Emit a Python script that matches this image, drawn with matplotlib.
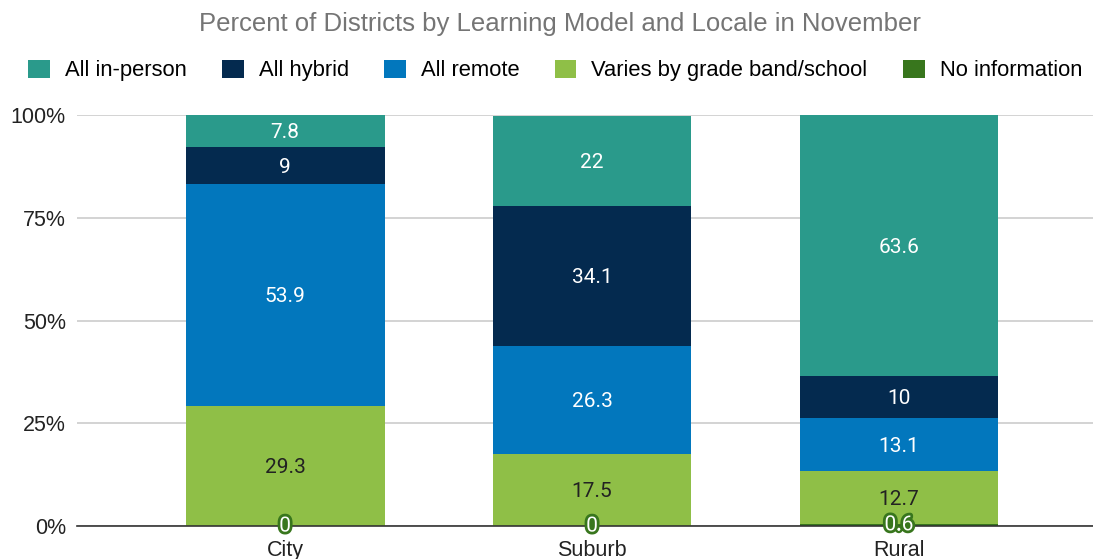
import matplotlib

matplotlib.use("Agg")
import matplotlib.pyplot as plt
import matplotlib.patheffects as pe
from matplotlib.patches import Patch
from matplotlib.ticker import FuncFormatter

# Share of districts (%) per locale, stacked bottom to top.
locales = ["City", "Suburb", "Rural"]
no_information = [0, 0, 0.6]
varies = [29.3, 17.5, 12.7]
all_remote = [53.9, 26.3, 13.1]
all_hybrid = [9, 34.1, 10]
all_in_person = [7.8, 22, 63.6]

# (legend name, values, fill colour, label colour), bottom of the stack first.
SERIES = (
    ("No information", no_information, "#38761d", "white"),
    ("Varies by grade band/school", varies, "#8fbf47", "#222222"),
    ("All remote", all_remote, "#0277bd", "white"),
    ("All hybrid", all_hybrid, "#042a4f", "white"),
    ("All in-person", all_in_person, "#2a9a8b", "white"),
)
LEGEND_ORDER = ["All in-person", "All hybrid", "All remote",
                "Varies by grade band/school", "No information"]

SANS = ["Liberation Sans", "DejaVu Sans"]
LABEL_FONT = ["Roboto", "DejaVu Sans"]

fig = plt.figure(figsize=(10.93, 5.59), dpi=100)
ax = fig.add_axes([0.0704, 0.059, 0.9296, 0.735])

x = range(len(locales))
bottoms = [0.0] * len(locales)
for name, values, color, text_color in SERIES:
    ax.bar(x, values, width=0.648, bottom=bottoms, color=color, zorder=2)
    for i, v in enumerate(values):
        y = bottoms[i] + v / 2
        label = f"{v:g}"
        if name == "No information":
            # zero-height segments still get a label, outlined like Sheets does
            ax.text(i, y, label, ha="center", va="center", color="white",
                    fontsize=15, family=LABEL_FONT, zorder=4,
                    path_effects=[pe.withStroke(linewidth=4, foreground=color)])
        else:
            ax.text(i, y - 0.4, label, ha="center", va="center", color=text_color,
                    fontsize=15, family=LABEL_FONT, zorder=4)
    bottoms = [b + v for b, v in zip(bottoms, values)]

ax.set_xlim(-0.678, 2.632)
ax.set_ylim(0, 100)
ax.set_yticks([0, 25, 50, 75, 100])
ax.yaxis.set_major_formatter(FuncFormatter(lambda v, _: f"{v:.0f}%"))
ax.set_xticks(list(x))
ax.set_xticklabels(locales)
ax.tick_params(length=0, labelsize=15.5, colors="#222222", pad=8)
ax.tick_params(axis="x", pad=10)
for lab in ax.get_xticklabels() + ax.get_yticklabels():
    lab.set_family(SANS)
ax.grid(axis="y", color="#cccccc", linewidth=1.2, zorder=0)
for side in ("top", "right", "left"):
    ax.spines[side].set_visible(False)
ax.spines["bottom"].set_color("#333333")
ax.spines["bottom"].set_linewidth(1.2)
ax.spines["bottom"].set_zorder(3)

colors = {name: color for name, _, color, _ in SERIES}
handles = [Patch(facecolor=colors[n], label=n) for n in LEGEND_ORDER]
fig.legend(handles=handles, loc="center", bbox_to_anchor=(555 / 1093, 1 - 70.5 / 559),
           ncol=5, frameon=False, prop={"family": SANS, "size": 15.8},
           handlelength=1.0, handleheight=0.92, handletextpad=0.68,
           columnspacing=1.6, borderaxespad=0)

fig.text(560 / 1093, 1 - 23.5 / 559, "Percent of Districts by Learning Model and Locale in November",
         ha="center", va="center", fontsize=18.5, color="#757575", family=SANS)

fig.savefig("out.png", dpi=100)
